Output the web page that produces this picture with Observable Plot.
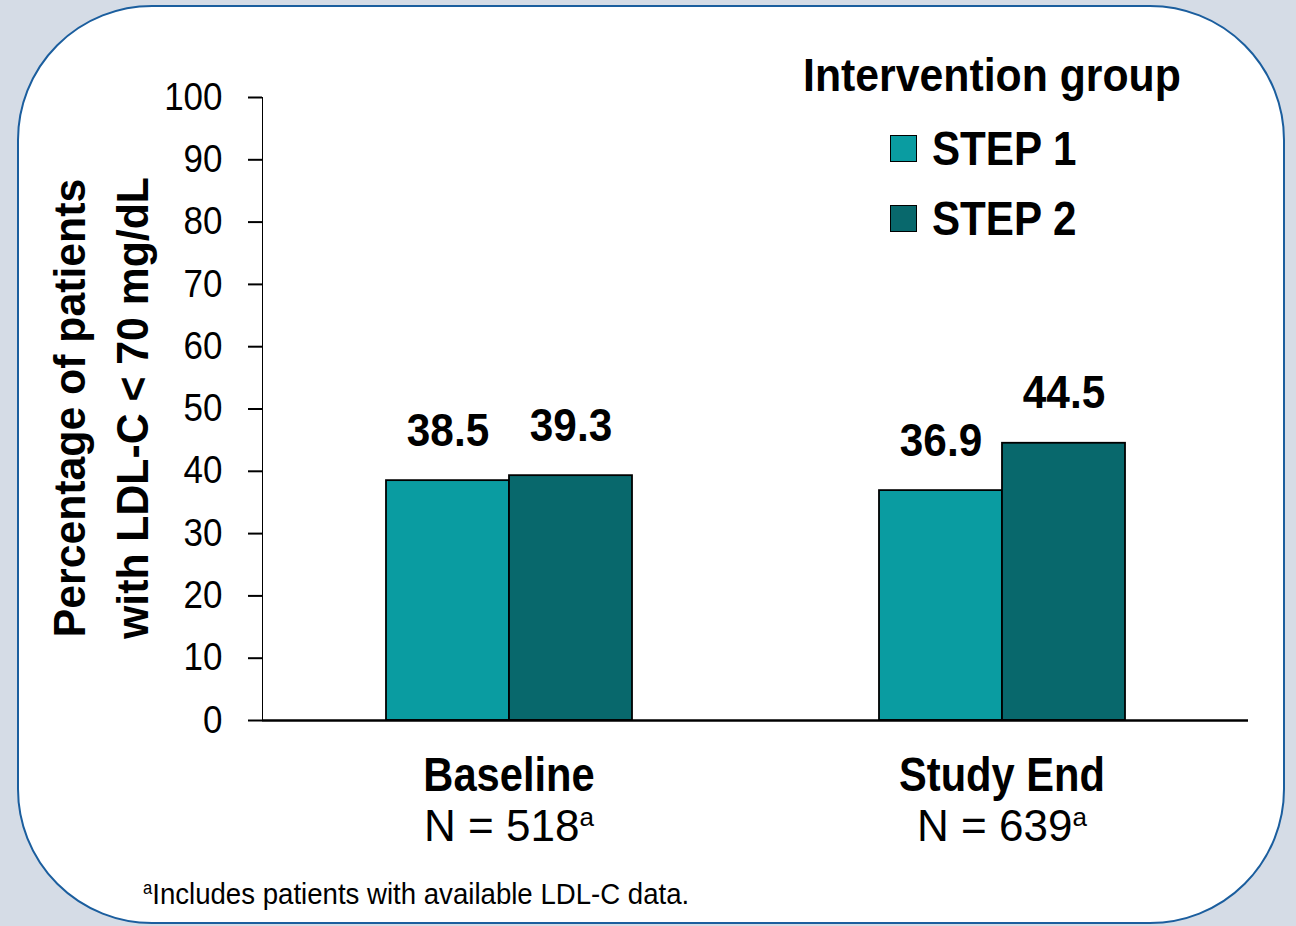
<!DOCTYPE html>
<html>
<head>
<meta charset="utf-8">
<script src="https://cdn.jsdelivr.net/npm/d3@7"></script>
<script src="https://cdn.jsdelivr.net/npm/@observablehq/plot@0.6"></script>
<style>
  html, body { margin: 0; padding: 0; }
  body {
    width: 1296px; height: 926px; overflow: hidden; position: relative;
    background: #d5dce6;
    font-family: "Liberation Sans Narrow", "Arial Narrow", "Liberation Sans", Arial, sans-serif;
    color: #000;
  }
  #panel {
    position: absolute; left: 17px; top: 5px; width: 1268px; height: 919px;
    box-sizing: border-box; background: #fff;
    border: 2.5px solid #1b5e9e; border-radius: 135px;
  }
  #chart { position: absolute; left: 0; top: 0; }
  #chart g[aria-label="y-axis tick"] path,
  #chart g[aria-label="y-axis tick"] line { stroke-width: 2px; stroke: #000; }
  #ylabel {
    position: absolute; left: 101px; top: 408px; width: 520px;
    transform: translate(-50%, -50%) rotate(-90deg) scaleX(0.95);
    text-align: center; font-weight: bold; font-size: 45px; line-height: 63px;
    white-space: nowrap;
  }
  #legend { position: absolute; left: 803px; top: 48px; }
  #legend .title { font-weight: bold; font-size: 46px; line-height: 54px; white-space: nowrap;
    transform: scaleX(0.93); transform-origin: left center; }
  #legend .item { position: absolute; left: 87px; display: flex; align-items: center; white-space: nowrap; }
  #legend .item span { font-weight: bold; font-size: 49px; display: inline-block;
    transform: scaleX(0.86); transform-origin: left center; }
  #legend .swatch { width: 25px; height: 25px; border: 1.5px solid #000; margin-right: 15px; }
  #note { position: absolute; left: 143px; top: 877px; font-size: 30px; white-space: nowrap;
    transform: scaleX(0.92); transform-origin: left center; }
  #note sup { font-size: 18px; vertical-align: 10px; line-height: 0; }
</style>
</head>
<body>
<div id="panel"></div>
<div id="chart"></div>
<div id="ylabel">Percentage of patients<br>with LDL-C &lt; 70 mg/dL</div>
<div id="legend"></div>
<div id="note"><sup>a</sup>Includes patients with available LDL-C data.</div>
<script>
// Time points and their sample sizes
const groups = ["Baseline", "Study End"];
const sampleSizes = [518, 639];
// Intervention series
const series = ["STEP 1", "STEP 2"];
const seriesColors = ["#0a9ca1", "#08686c"];
// Percentage of patients with LDL-C < 70 mg/dL, per time point, per series
const step1Values = [38.5, 36.9];
const step2Values = [39.3, 44.5];
const yTicks = [0, 10, 20, 30, 40, 50, 60, 70, 80, 90, 100];

const rows = groups.flatMap((g, i) => [
  {group: g, series: series[0], value: step1Values[i]},
  {group: g, series: series[1], value: step2Values[i]}
]);
const groupRows = groups.map((g, i) => ({group: g, n: sampleSizes[i]}));

const chart = Plot.plot({
  width: 1296,
  height: 860,
  marginLeft: 262,
  marginRight: 48,
  marginTop: 97,
  marginBottom: 140,
  style: {fontFamily: "'Liberation Sans Narrow', 'Arial Narrow', 'Liberation Sans', Arial, sans-serif", fontSize: "38px", color: "#000", background: "transparent", overflow: "visible"},
  fx: {domain: groups, padding: 0, axis: null},
  x: {domain: series, paddingInner: 0, paddingOuter: 1, axis: null},
  y: {domain: [0, 100], ticks: yTicks, tickSize: 14, tickPadding: 26, line: true, label: null},
  color: {domain: series, range: seriesColors},
  marks: [
    Plot.barY(rows, {fx: "group", x: "series", y: "value", fill: "series", stroke: "#000", strokeWidth: 1.8}),
    Plot.ruleY([0], {stroke: "#000", strokeWidth: 2.5}),
    Plot.text(rows, {fx: "group", x: "series", y: "value", text: d => d.value.toFixed(1), lineAnchor: "bottom", dy: -35, fontSize: 47, fontWeight: "bold", fill: "#000", ariaDescription: "value label"}),
    Plot.text(groupRows, {fx: "group", text: "group", frameAnchor: "bottom", dy: 70, fontSize: 49, fontWeight: "bold", fill: "#000", ariaDescription: "group label"}),
    Plot.text(groupRows, {fx: "group", text: d => `N = ${d.n}`, frameAnchor: "bottom", dy: 120, fontSize: 44, fill: "#000", ariaDescription: "sample size"})
  ]
});
document.getElementById("chart").appendChild(chart);

// footnote marker on each sample size
d3.select(chart).selectAll('g[aria-description="sample size"] text')
  .append("tspan").attr("dy", "-0.55em").attr("font-size", "26px").text("a");

// narrow the glyphs of a set of labels, keeping their anchors
function condense(selection, k) {
  selection.each(function() {
    const len = this.getComputedTextLength();
    this.setAttribute("textLength", len * k);
    this.setAttribute("lengthAdjust", "spacingAndGlyphs");
  });
}
condense(d3.select(chart).selectAll('g[aria-label="y-axis tick label"] text'), 0.92);
condense(d3.select(chart).selectAll('g[aria-description="value label"] text'), 0.9);
condense(d3.select(chart).selectAll('g[aria-description="group label"] text'), 0.85);

// legend
const legend = d3.select("#legend");
legend.append("div").attr("class", "title").text("Intervention group");
series.forEach((s, i) => {
  const item = legend.append("div").attr("class", "item").style("top", `${72 + i * 70}px`);
  item.append("div").attr("class", "swatch").style("background", seriesColors[i]);
  item.append("span").text(s);
});
</script>
</body>
</html>
